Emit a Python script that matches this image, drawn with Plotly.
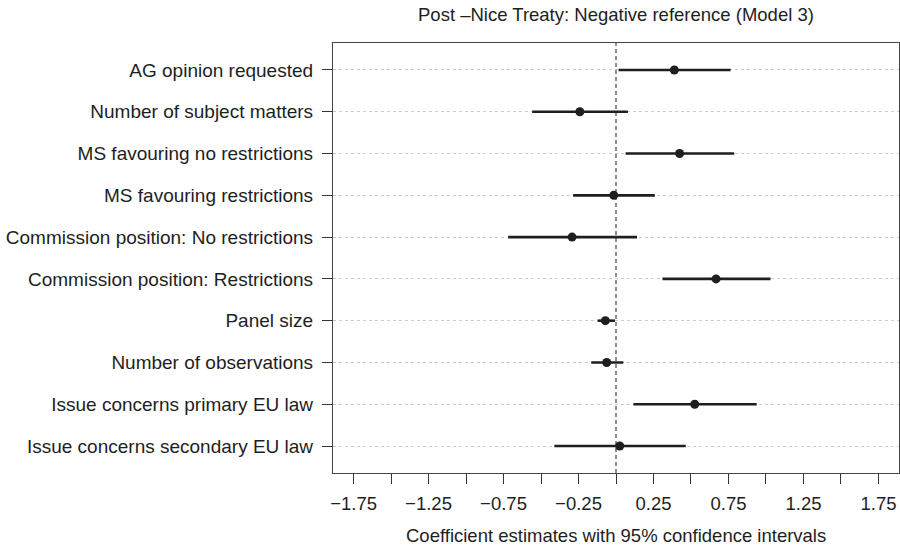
import plotly.graph_objects as go

# ---- data ----
variables = [
    "AG opinion requested",
    "Number of subject matters",
    "MS favouring no restrictions",
    "MS favouring restrictions",
    "Commission position: No restrictions",
    "Commission position: Restrictions",
    "Panel size",
    "Number of observations",
    "Issue concerns primary EU law",
    "Issue concerns secondary EU law",
]
estimates = [0.389, -0.241, 0.424, -0.015, -0.293, 0.667, -0.071, -0.062, 0.525, 0.025]
ci_low = [0.017, -0.559, 0.064, -0.286, -0.719, 0.310, -0.123, -0.165, 0.116, -0.411]
ci_high = [0.764, 0.079, 0.788, 0.259, 0.140, 1.030, -0.007, 0.049, 0.938, 0.465]

x_tick_vals = [-1.75, -1.5, -1.25, -1.0, -0.75, -0.5, -0.25, 0.0,
               0.25, 0.5, 0.75, 1.0, 1.25, 1.5, 1.75]
x_tick_text = ["\u22121.75", "", "\u22121.25", "", "\u22120.75", "", "\u22120.25", "",
               "0.25", "", "0.75", "", "1.25", "", "1.75"]

title_text = "Post \u2013Nice Treaty: Negative reference (Model 3)"
x_title_text = "Coefficient estimates with 95% confidence intervals"

# ---- figure ----
n = len(variables)
ypos = [n - i for i in range(n)]  # top row first

FONT = "Liberation Sans, Arial, Helvetica, sans-serif"
INK = "#1e1e1e"

ci_x, ci_y = [], []
for lo, hi, yy in zip(ci_low, ci_high, ypos):
    ci_x += [lo, hi, None]
    ci_y += [yy, yy, None]

fig = go.Figure()
fig.add_trace(go.Scatter(x=ci_x, y=ci_y, mode="lines",
                         line=dict(color=INK, width=2.6),
                         hoverinfo="skip", showlegend=False))
fig.add_trace(go.Scatter(x=estimates, y=ypos, mode="markers",
                         marker=dict(color=INK, size=9, line=dict(width=0)),
                         showlegend=False))

# zero reference line
fig.add_shape(type="line", xref="x", yref="paper", x0=0, x1=0, y0=0, y1=1,
              line=dict(color="#444444", width=1.2, dash="4px,3px"), layer="below")

left, right, top, bottom = 333, 1, 43, 77
plot_h = 550 - top - bottom

fig.update_layout(
    width=900, height=550,
    margin=dict(l=left, r=right, t=top, b=bottom),
    paper_bgcolor="white", plot_bgcolor="white",
    font=dict(family=FONT, size=18, color=INK),
    xaxis=dict(range=[-1.887, 1.887], tickvals=x_tick_vals, ticktext=x_tick_text,
               ticks="outside", ticklen=10, tickwidth=1, tickcolor="#333333",
               showgrid=False, zeroline=False,
               showline=True, linecolor="#444444", linewidth=1.2, mirror=True,
               tickfont=dict(size=18.5, color=INK), ticklabelstandoff=4),
    yaxis=dict(range=[0.354, 10.646], tickvals=ypos, ticktext=variables,
               ticks="outside", ticklen=10, tickwidth=1, tickcolor="#333333",
               showgrid=True, gridcolor="#cccccc", griddash="dot", gridwidth=1,
               zeroline=False,
               showline=True, linecolor="#444444", linewidth=1.2, mirror=True,
               tickfont=dict(size=19, color=INK), ticklabelstandoff=5),
    annotations=[
        dict(text=title_text, xref="paper", yref="paper", x=0.5,
             y=1 + (top - 15) / plot_h, xanchor="center", yanchor="middle",
             showarrow=False, font=dict(size=18.5, color=INK)),
        dict(text=x_title_text, xref="paper", yref="paper", x=0.5,
             y=-(548 - (550 - bottom)) / plot_h, xanchor="center", yanchor="bottom",
             showarrow=False, font=dict(size=18.5, color=INK)),
    ],
)

fig.write_html("out.html")
